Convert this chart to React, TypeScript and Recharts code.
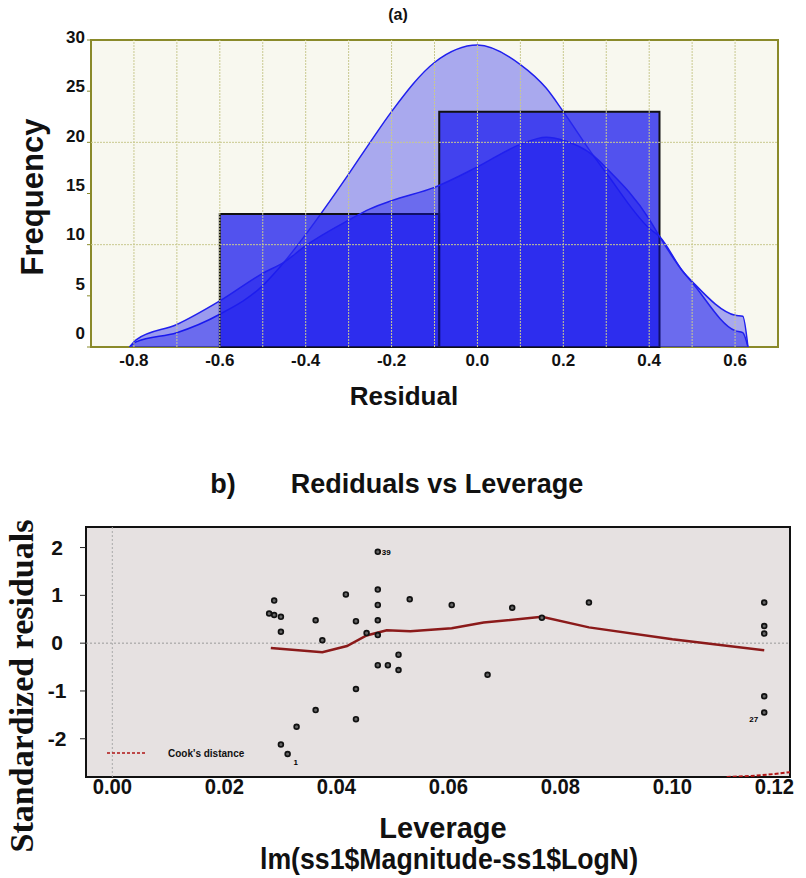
import React from 'react';
import {
  ComposedChart, Area, Scatter, Line, XAxis, YAxis, ReferenceArea, ReferenceLine,
} from 'recharts';

// ---- (a) histogram of residuals ----
const binStarts = [-0.6, -0.089];
const binEnds = [-0.089, 0.424];
const binCounts = [13, 23];

const curveX = [-0.81, -0.795, -0.7, -0.6, -0.5, -0.45, -0.4, -0.3, -0.25, -0.2, -0.1, 0.0, 0.1, 0.16, 0.2, 0.27, 0.3, 0.4, 0.424, 0.48, 0.5, 0.6, 0.618, 0.63];
const normalCurve = [0, 0.5, 1.4, 3.2, 6.0, 8.3, 11.0, 16.9, 20.0, 23.0, 27.8, 29.5, 27.6, 25.3, 23.0, 18.7, 17.0, 11.6, 10.8, 7.3, 6.4, 3.1, 3.0, 0];
const densityCurve = [0, 0.7, 2.2, 4.5, 7.2, 8.3, 9.9, 12.4, 13.5, 14.3, 15.6, 17.6, 19.8, 20.5, 20.2, 18.7, 17.5, 12.5, 10.8, 7.3, 6.3, 1.6, 1.4, 0];

const histXTicks = [-0.8, -0.6, -0.4, -0.2, 0.0, 0.2, 0.4, 0.6];
const histYTicks = [0, 5, 10, 15, 20, 25, 30];
const histGridX = [-0.8, -0.7, -0.6, -0.5, -0.4, -0.3, -0.2, -0.1, 0.0, 0.1, 0.2, 0.3, 0.4, 0.5, 0.6];
const histGridY = [10, 20];
const histXDomain = [-0.9, 0.7];
const histYDomain = [0, 30];

// ---- (b) residuals vs leverage ----
const leverage = [0.0280, 0.0289, 0.0301, 0.0289, 0.0301, 0.0301, 0.0313, 0.0329, 0.0363, 0.0363, 0.0375, 0.0417, 0.0435, 0.0435, 0.0435, 0.0454, 0.0474, 0.0474, 0.0474, 0.0474, 0.0474, 0.0474, 0.0492, 0.0511, 0.0511, 0.0531, 0.0606, 0.0670, 0.0714, 0.0767, 0.0851, 0.1164, 0.1164, 0.1164, 0.1164, 0.1164];
const stdResid = [0.62, 0.59, 0.55, 0.89, 0.24, -2.12, -2.32, -1.75, 0.48, -1.40, 0.06, 1.02, 0.46, -0.96, -1.59, 0.21, 1.91, 1.12, 0.80, 0.48, 0.17, -0.46, -0.46, -0.24, -0.56, 0.92, 0.80, -0.66, 0.74, 0.53, 0.85, 0.85, 0.36, 0.20, -1.11, -1.45];
const pointNames = ['', '', '', '', '', '', '1', '', '', '', '', '', '', '', '', '', '39', '', '', '', '', '', '', '', '', '', '', '', '', '', '', '', '', '', '', '27'];

const loessLev = [0.0283, 0.0375, 0.0419, 0.0454, 0.0490, 0.0532, 0.0606, 0.0663, 0.0767, 0.0851, 0.1000, 0.1164];
const loessRes = [-0.10, -0.19, -0.06, 0.16, 0.27, 0.25, 0.31, 0.43, 0.55, 0.33, 0.08, -0.15];

const cookLev = [0.1097, 0.1150, 0.1210];
const cookRes = [-2.80, -2.77, -2.70];

const levTicks = [0, 0.02, 0.04, 0.06, 0.08, 0.1, 0.12];
const residTicks = [-2, -1, 0, 1, 2];
const levDomain = [-0.0047, 0.121];
const residDomain = [-2.8, 2.43];

const histData = curveX.map((x, i) => ({ x, normal: normalCurve[i], density: densityCurve[i] }));
const pointData = leverage.map((x, i) => ({ x, y: stdResid[i], name: pointNames[i] }));
const loessData = loessLev.map((x, i) => ({ x, y: loessRes[i] }));
const cookData = cookLev.map((x, i) => ({ x, y: cookRes[i] }));

const olive = '#8a8a2a';
const sans = "'Liberation Sans', Arial, sans-serif";

const Txt = ({ x, y, size, family = sans, rotate = 0, sx = 1, spacing = 0, children }: any) => (
  <div
    style={{
      position: 'absolute', left: x, top: y, fontFamily: family, fontSize: size, fontWeight: 'bold',
      color: '#111', whiteSpace: 'nowrap', lineHeight: 1, letterSpacing: spacing,
      transform: `translate(-50%, -50%) rotate(${rotate}deg) scaleX(${sx})`,
    }}
  >
    {children}
  </div>
);

const HistXTick = (props: any) => {
  const { x, y, payload } = props;
  return (
    <text x={x} y={y + 11} textAnchor="middle" fontFamily={sans} fontWeight="bold" fontSize={17} fill="#111">
      {payload.value.toFixed(1)}
    </text>
  );
};

const HistYTick = (props: any) => {
  const { x, y, payload } = props;
  const dy = 3 - ((30 - payload.value) / 30) * 11;
  return (
    <text x={x} y={y + dy} textAnchor="end" fontFamily={sans} fontWeight="bold" fontSize={17} fill="#111">
      {payload.value}
    </text>
  );
};

const LevTick = (props: any) => {
  const { x, y, payload } = props;
  const shift = payload.value === 0.12 ? -10 : 0;
  return (
    <text x={x + shift} y={y + 9} textAnchor="middle" fontFamily={sans} fontWeight="bold" fontSize={22} fill="#111"
      transform={`translate(${x + shift} 0) scale(0.92 1) translate(${-(x + shift)} 0)`}>
      {payload.value.toFixed(2)}
    </text>
  );
};

const ResidTick = (props: any) => {
  const { y, payload } = props;
  return (
    <text x={57} y={y + 7} textAnchor="middle" fontFamily={sans} fontWeight="bold" fontSize={21} fill="#111">
      {payload.value}
    </text>
  );
};

const PointShape = (props: any) => {
  const { cx, cy, payload } = props;
  let label = null;
  if (payload.name === '1') label = <text x={cx + 6} y={cy + 11} fontSize={8} fontWeight="bold" fontFamily={sans}>1</text>;
  if (payload.name === '39') label = <text x={cx + 4} y={cy + 3} fontSize={8} fontWeight="bold" fontFamily={sans}>39</text>;
  if (payload.name === '27') label = <text x={cx - 15} y={cy + 10} fontSize={8} fontWeight="bold" fontFamily={sans}>27</text>;
  return (
    <g>
      <circle cx={cx} cy={cy} r={2.4} fill="#666" stroke="#111" strokeWidth={1.7} />
      {label}
    </g>
  );
};

export default function App() {
  return (
    <div style={{ position: 'absolute', left: 0, top: 0, width: 806, height: 878, background: '#fff', overflow: 'hidden' }}>
      <div style={{ position: 'absolute', left: 0, top: 0 }}>
        <ComposedChart width={806} height={420} data={histData} margin={{ top: 40, right: 28, bottom: 43, left: 0 }}>
          <XAxis type="number" dataKey="x" domain={histXDomain} ticks={histXTicks} interval={0} height={30}
            axisLine={false} tickLine={false} tick={<HistXTick />} allowDataOverflow />
          <YAxis type="number" domain={histYDomain} ticks={histYTicks} interval={0} width={91}
            axisLine={false} tickLine={{ stroke: olive }} tickSize={4} tick={<HistYTick />} allowDataOverflow />
          <ReferenceArea x1={histXDomain[0]} x2={histXDomain[1]} y1={histYDomain[0]} y2={histYDomain[1]}
            fill="#f8f8ef" fillOpacity={1} stroke={olive} strokeWidth={2} />
          {histGridX.map((g) => (
            <ReferenceLine key={'gx' + g} x={g} stroke="#c9c98f" strokeDasharray="2 1" />
          ))}
          {histGridY.map((g) => (
            <ReferenceLine key={'gy' + g} y={g} stroke="#c9c98f" strokeDasharray="2 1" />
          ))}
          <Area type="monotone" dataKey="normal" stroke="#2020ee" strokeWidth={1.5} fill="#3333ee" fillOpacity={0.4}
            isAnimationActive={false} dot={false} activeDot={false} />
          {binCounts.map((c, i) => (
            <ReferenceArea key={'bin' + i} x1={binStarts[i]} x2={binEnds[i]} y1={0} y2={c}
              fill="#2828ee" fillOpacity={0.8} stroke="#111" strokeWidth={2} />
          ))}
          <Area type="monotone" dataKey="density" stroke="#2020ee" strokeWidth={1.5} fill="#1010ee" fillOpacity={0.4}
            isAnimationActive={false} dot={false} activeDot={false} />
        </ComposedChart>
      </div>

      <div style={{ position: 'absolute', left: 0, top: 500 }}>
        <ComposedChart width={806} height={340} margin={{ top: 27, right: 16, bottom: 33, left: 0 }}>
          <XAxis type="number" dataKey="x" domain={levDomain} ticks={levTicks} interval={0} height={30}
            axisLine={false} tickLine={false} tick={<LevTick />} allowDataOverflow />
          <YAxis type="number" dataKey="y" domain={residDomain} ticks={residTicks} interval={0} width={86}
            axisLine={false} tickLine={{ stroke: '#222' }} tickSize={6} tick={<ResidTick />} allowDataOverflow />
          <ReferenceArea x1={levDomain[0]} x2={levDomain[1]} y1={residDomain[0]} y2={residDomain[1]}
            fill="#e6e1e1" fillOpacity={1} stroke="#111" strokeWidth={2} />
          <ReferenceLine y={0} stroke="#999" strokeDasharray="2 2" />
          <ReferenceLine x={0} stroke="#aaa" strokeDasharray="2 2" />
          <Line data={loessData} dataKey="y" type="linear" stroke="#8b1a1a" strokeWidth={2.5} dot={false}
            isAnimationActive={false} activeDot={false} />
          <Line data={cookData} dataKey="y" type="monotone" stroke="#b01515" strokeWidth={2} strokeDasharray="4 2"
            dot={false} isAnimationActive={false} activeDot={false} />
          <Scatter data={pointData} dataKey="y" shape={<PointShape />} isAnimationActive={false} />
        </ComposedChart>
      </div>

      {/* Cook's distance legend */}
      <svg style={{ position: 'absolute', left: 100, top: 744 }} width={160} height={20}>
        <line x1={7} y1={9} x2={47} y2={9} stroke="#b01515" strokeWidth={1.5} strokeDasharray="3 2" />
        <text x={68} y={13} fontFamily={sans} fontWeight="bold" fontSize={10} fill="#111">Cook's distance</text>
      </svg>

      <Txt x={398} y={15} size={16}>(a)</Txt>
      <Txt x={32} y={197} size={31} rotate={-90}>Frequency</Txt>
      <Txt x={404} y={396} size={26}>Residual</Txt>

      <Txt x={223} y={484} size={27}>b)</Txt>
      <Txt x={437} y={484} size={27}>Rediduals vs Leverage</Txt>
      <Txt x={22} y={686} size={34} family="'Liberation Serif', 'Times New Roman', serif" rotate={-90}>Standardized residuals</Txt>
      <Txt x={443} y={828} size={29}>Leverage</Txt>
      <Txt x={449} y={859} size={29} sx={0.92}>lm(ss1$Magnitude-ss1$LogN)</Txt>
    </div>
  );
}
